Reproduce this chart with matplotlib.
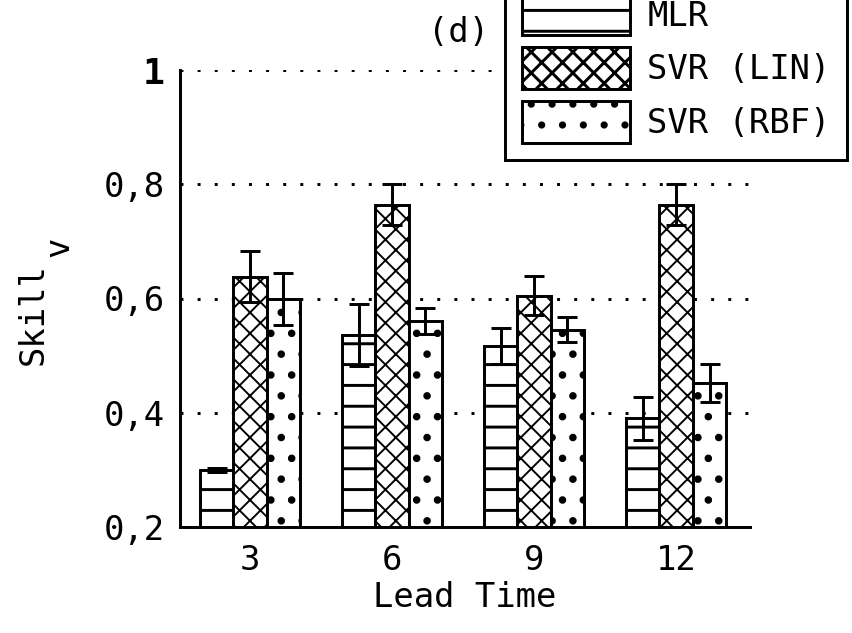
import numpy as np
import matplotlib as mpl
import matplotlib.pyplot as plt

# skill per lead time, with error bars
lead_times = ['3', '6', '9', '12']
models = ['MLR', 'SVR (LIN)', 'SVR (RBF)']
skill_mlr = [0.300, 0.536, 0.517, 0.390]
skill_lin = [0.638, 0.764, 0.605, 0.764]
skill_rbf = [0.599, 0.561, 0.545, 0.452]
err_mlr = [0.003, 0.054, 0.032, 0.038]
err_lin = [0.045, 0.036, 0.034, 0.036]
err_rbf = [0.046, 0.023, 0.022, 0.033]
y_ticks = [0.2, 0.4, 0.6, 0.8, 1.0]
y_tick_labels = ['0,2', '0,4', '0,6', '0,8', '1']

DPI = 125
plt.rcParams['font.family'] = ['DejaVu Sans Mono']
plt.rcParams['font.size'] = 19.5
plt.rcParams['hatch.linewidth'] = 1.7
plt.rcParams['axes.linewidth'] = 1.7

fig = plt.figure(figsize=(852 / DPI, 633 / DPI), dpi=DPI)
ax = fig.add_axes([180 / 852, 106 / 633, 570 / 852, 457 / 633])

x = np.arange(len(lead_times))
w = 0.235
series = [(skill_mlr, err_mlr, '-', 1.7),
          (skill_lin, err_lin, 'xx', 1.1),
          (skill_rbf, err_rbf, '.', 1.9)]
for i, (vals, errs, hatch, hlw) in enumerate(series):
    with mpl.rc_context({'hatch.linewidth': hlw}):
        ax.bar(x + (i - 1) * w, vals, w, yerr=errs, label=models[i],
               facecolor='white', edgecolor='black', linewidth=1.7, hatch=hatch,
               error_kw=dict(ecolor='black', elinewidth=1.7, capsize=5.8, capthick=1.7),
               zorder=2)

ax.set_xlim(-0.493, 3.52)
ax.set_ylim(0.2, 1.0)
ax.set_xticks(x, lead_times)
ax.set_yticks(y_ticks, y_tick_labels)
one = ax.get_yticklabels()[-1]
one.set_fontsize(21)
one.set_fontweight('bold')
ax.tick_params(axis='both', length=0)
ax.tick_params(axis='y', pad=8.6)
ax.tick_params(axis='x', pad=10)

ax.set_axisbelow(True)
ax.yaxis.grid(True, color='black', linewidth=1.7, linestyle=(0, (1, 4.8)))
for side in ['top', 'right']:
    ax.spines[side].set_visible(False)

ax.set_xlabel('Lead Time', labelpad=2)
# "Skill" with a subscript v set a little lower
ax.set_ylabel('Skill')
ax.yaxis.set_label_coords(-0.229, 0.466)
ax.text(-0.212, 0.614, 'v', transform=ax.transAxes, rotation=90,
        ha='center', va='center', clip_on=False)

ax.text(0.488, 1.083, '(d)', transform=ax.transAxes, ha='center', va='center',
        clip_on=False)

leg = ax.legend(loc='lower left', bbox_to_anchor=(505 / 852, 1 - 160 / 633),
                bbox_transform=fig.transFigure, borderaxespad=0,
                fancybox=False, framealpha=1, edgecolor='black',
                handlelength=3.2, handleheight=1.53, handletextpad=0.5,
                labelspacing=0.35, borderpad=0.5)
leg.get_frame().set_linewidth(1.7)

fig.savefig('out.png', dpi=DPI)
